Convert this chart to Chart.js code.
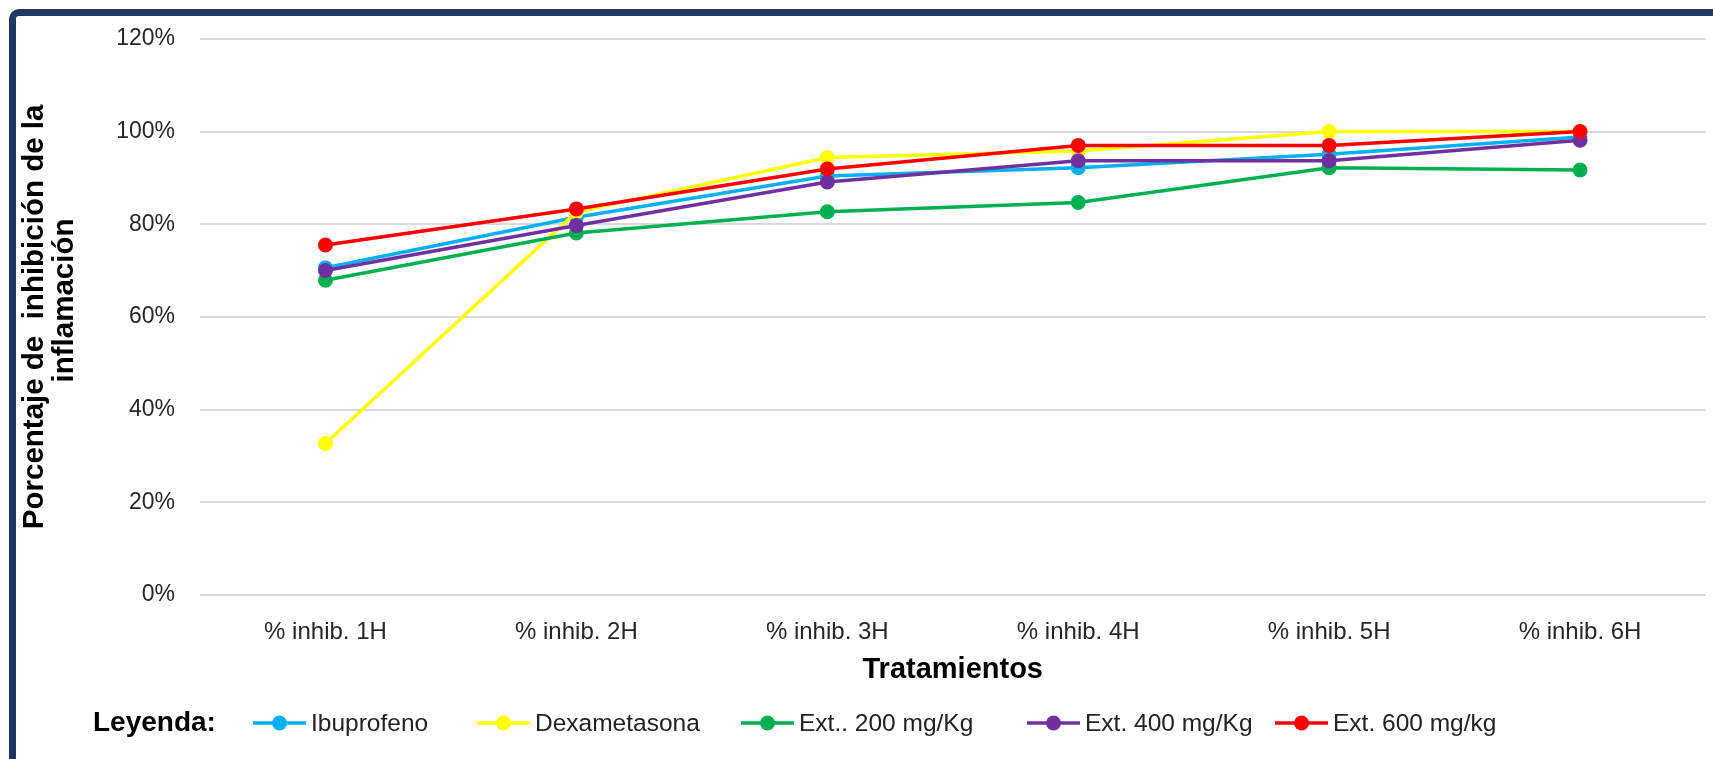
<!DOCTYPE html>
<html>
<head>
<meta charset="utf-8">
<script src="https://cdn.jsdelivr.net/npm/chart.js@4.4.1/dist/chart.umd.min.js"></script>
<style>
  html, body { margin: 0; padding: 0; background: #ffffff; }
  #wrap { position: relative; width: 1713px; height: 759px; }
</style>
</head>
<body>
<div id="wrap"><canvas id="c" width="1713" height="759"></canvas></div>
<script>
// Categories (hours after treatment) and tick values of the percentage axis
const categories = ['% inhib. 1H', '% inhib. 2H', '% inhib. 3H', '% inhib. 4H', '% inhib. 5H', '% inhib. 6H'];
const yTicks = [0, 20, 40, 60, 80, 100, 120];

// Percentage of inflammation inhibition per treatment
const ibuprofeno   = [70.6, 81.5, 90.4, 92.2, 95.1, 98.8];
const dexametasona = [32.7, 82.6, 94.4, 95.8, 100.0, 100.0];
const ext200       = [67.9, 78.1, 82.7, 84.7, 92.2, 91.7];
const ext400       = [70.0, 79.7, 89.1, 93.7, 93.7, 98.1];
const ext600       = [75.5, 83.3, 91.9, 97.0, 97.0, 100.0];

const seriesNames = ['Ibuprofeno', 'Dexametasona', 'Ext.. 200 mg/Kg', 'Ext. 400 mg/Kg', 'Ext. 600 mg/kg'];
const seriesColors = ['#00B0F0', '#FFFF00', '#00B050', '#7030A0', '#FF0000'];
const seriesValues = [ibuprofeno, dexametasona, ext200, ext400, ext600];

const FONT = '"Liberation Sans", Arial, sans-serif';
Chart.defaults.font.family = FONT;

// Dark frame along the top and left edges
const framePlugin = {
  id: 'frame',
  beforeDraw(chart) {
    const ctx = chart.ctx;
    ctx.save();
    ctx.fillStyle = '#ffffff';
    ctx.fillRect(0, 0, chart.width, chart.height);
    ctx.strokeStyle = '#1d3a63';
    ctx.lineWidth = 7;
    ctx.lineCap = 'butt';
    ctx.beginPath();
    ctx.moveTo(12.5, chart.height + 5);
    ctx.lineTo(12.5, 19);
    ctx.arcTo(12.5, 12.5, 19, 12.5, 6.5);
    ctx.lineTo(chart.width + 10, 12.5);
    ctx.stroke();
    ctx.restore();
  }
};

// Legend row under the axis title: "Leyenda:" followed by line+marker swatches
const legendStarts = [253, 477, 741, 1027, 1275];
const legendRowPlugin = {
  id: 'legendRow',
  afterDraw(chart) {
    const ctx = chart.ctx;
    const y = 723;
    ctx.save();
    ctx.textBaseline = 'middle';
    ctx.textAlign = 'left';
    ctx.fillStyle = '#000000';
    ctx.font = 'bold 28px ' + FONT;
    ctx.fillText('Leyenda:', 93, y);
    ctx.font = '24.5px ' + FONT;
    chart.data.datasets.forEach((ds, i) => {
      const x = legendStarts[i];
      ctx.strokeStyle = ds.borderColor;
      ctx.lineWidth = 3.5;
      ctx.beginPath();
      ctx.moveTo(x, y);
      ctx.lineTo(x + 53, y);
      ctx.stroke();
      ctx.fillStyle = ds.borderColor;
      ctx.beginPath();
      ctx.arc(x + 26.5, y, 7.5, 0, Math.PI * 2);
      ctx.fill();
      ctx.fillStyle = '#222222';
      ctx.fillText(ds.label, x + 58, y + 1);
    });
    ctx.restore();
  }
};

const datasets = seriesNames.map((name, i) => ({
  label: name,
  data: seriesValues[i],
  borderColor: seriesColors[i],
  backgroundColor: seriesColors[i],
  pointBackgroundColor: seriesColors[i],
  pointBorderColor: seriesColors[i],
  pointBorderWidth: 0,
  pointRadius: 7.5,
  borderWidth: 3.5,
  tension: 0,
  fill: false,
  order: seriesNames.length - 1 - i
}));

new Chart(document.getElementById('c'), {
  type: 'line',
  data: { labels: categories, datasets: datasets },
  options: {
    responsive: false,
    animation: false,
    devicePixelRatio: 1,
    layout: { padding: { left: 20, right: 5, top: 38, bottom: 0 } },
    plugins: {
      legend: { display: false },
      tooltip: { enabled: false }
    },
    scales: {
      x: {
        offset: true,
        grid: { display: false, drawTicks: false },
        border: { display: false },
        ticks: { color: '#262626', font: { size: 24 }, padding: 23, maxRotation: 0 },
        title: {
          display: true,
          text: 'Tratamientos',
          color: '#000000',
          font: { size: 29, weight: 'bold' },
          padding: { top: 0, bottom: 72 }
        },
        afterFit(scale) { scale.height = 164; }
      },
      y: {
        min: 0,
        max: 120,
        afterBuildTicks(scale) { scale.ticks = yTicks.map(v => ({ value: v })); },
        grid: { color: '#d9d9d9', lineWidth: 2, drawTicks: false },
        border: { display: false },
        ticks: {
          color: '#262626',
          font: { size: 23 },
          padding: 25,
          callback: v => v + '%'
        },
        title: {
          display: true,
          text: ['Porcentaje de  inhibición de la', '    inflamación'],
          color: '#000000',
          font: { size: 29.5, weight: 'bold', lineHeight: 1.02 },
          padding: { top: 0, bottom: 0 }
        },
        afterFit(scale) { scale.width = 180; }
      }
    }
  },
  plugins: [framePlugin, legendRowPlugin]
});
</script>
</body>
</html>
